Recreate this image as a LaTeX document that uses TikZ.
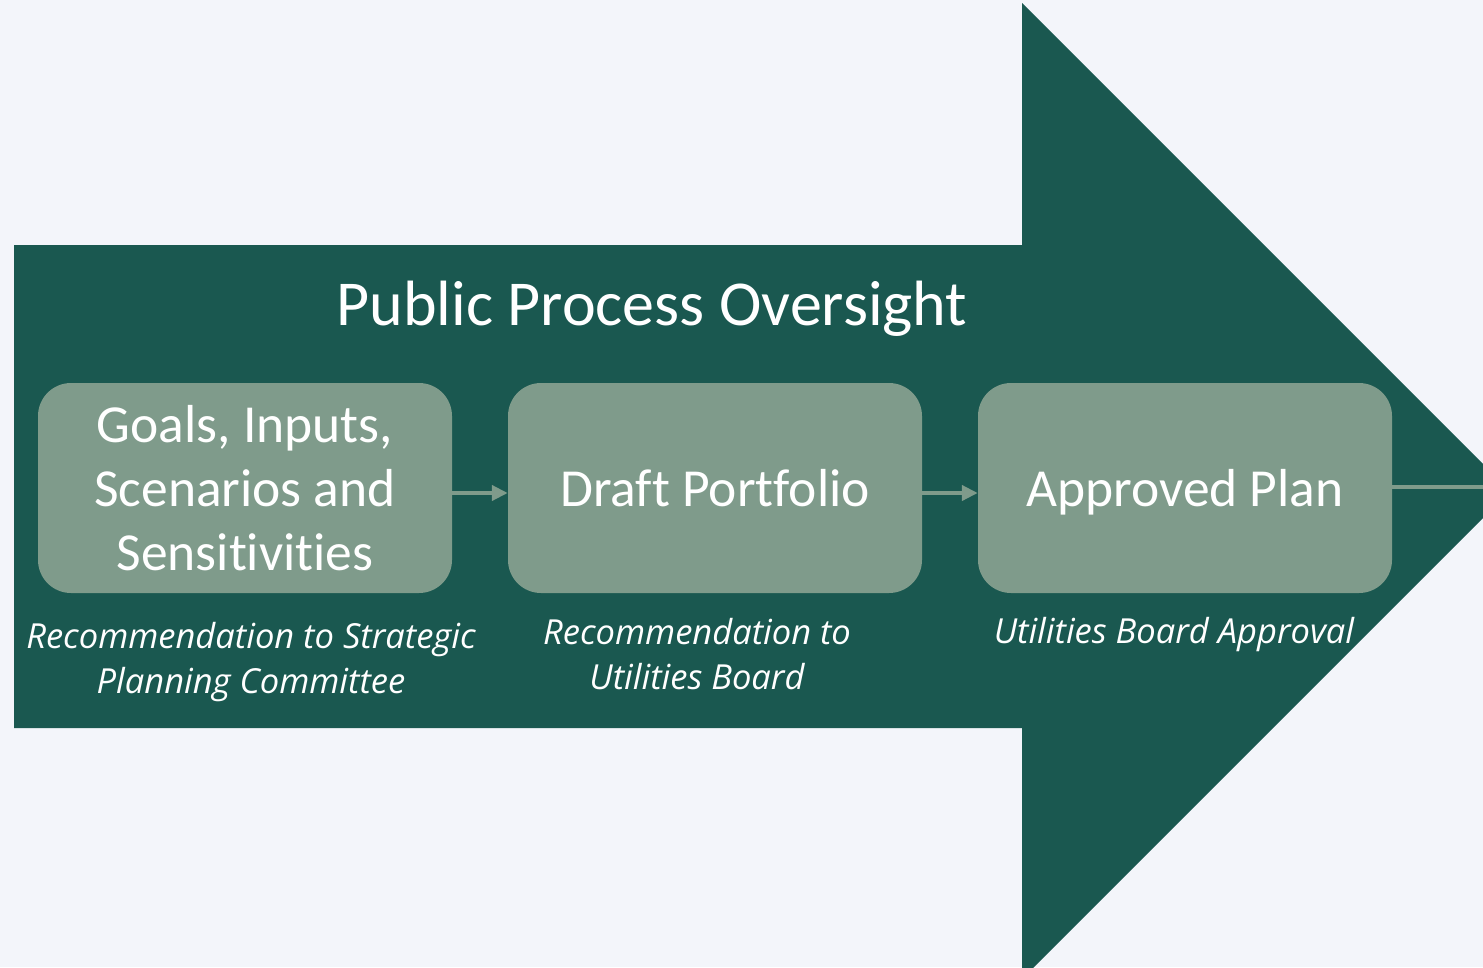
\documentclass[tikz,border=0pt]{standalone}
\usepackage{fontspec}
\setmainfont[Ligatures=NoCommon]{Carlito}
\newfontfamily\notefont{Open Sans}
\usetikzlibrary{positioning,arrows.meta,calc}
\definecolor{bgcol}{HTML}{F3F5FA}
\definecolor{darkgreen}{HTML}{1A5850}
\definecolor{sage}{HTML}{7F9B8B}
\tikzset{>={Triangle[length=16pt,width=15pt]}}

\begin{document}
\begin{tikzpicture}[x=1pt, y=-1pt, node distance=470pt,
    box/.style={fill=sage, rounded corners=33pt, minimum width=414pt,
      minimum height=210pt, text=white, align=center,
      font=\fontsize{53.5}{64}\selectfont},
    note/.style={text=white, align=center,
      font=\notefont\itshape\fontsize{34.5}{45}\selectfont},
    link/.style={draw=sage, line width=4pt}]
    \useasboundingbox (0,0) rectangle (1483,967);
    \fill[bgcol] (0,0) rectangle (1483,967);
    \begin{scope}
    \clip (0,0) rectangle (1483,967);
    % big arrow
    \fill[darkgreen] (14,245) -- (1022,245) -- (1022,3) -- (1510,491)
      -- (1022,979) -- (1022,728) -- (14,728) -- cycle;
    \node[text=white, font=\fontsize{64}{70}\selectfont] (title) at (652,309)
      {Public Process Oversight};
    \node[box] (b1) at (245,488) {Goals, Inputs,\\Scenarios and\\Sensitivities};
    \node[box, text depth=0pt] (b2) [right of=b1] {Draft Portfolio};
    \node[box, text depth=0pt] (b3) [right of=b2] {Approved Plan};
    \node[note] (n1) at (251,662) {Recommendation to Strategic\\Planning Committee};
    \node[note] (n2) at (697,654) {Recommendation to\\Utilities Board};
    \node[note] (n3) at (1174,635) {Utilities Board Approval};
    \coordinate (out) at (1490,487);
    \draw[link,->] (b1.east |- 0,493) -- (b2.west |- 0,493);
    \draw[link,->] (b2.east |- 0,493) -- (b3.west |- 0,493);
    \draw[link] (b3.east |- out) -- (out);
    \end{scope}
\end{tikzpicture}
\end{document}
